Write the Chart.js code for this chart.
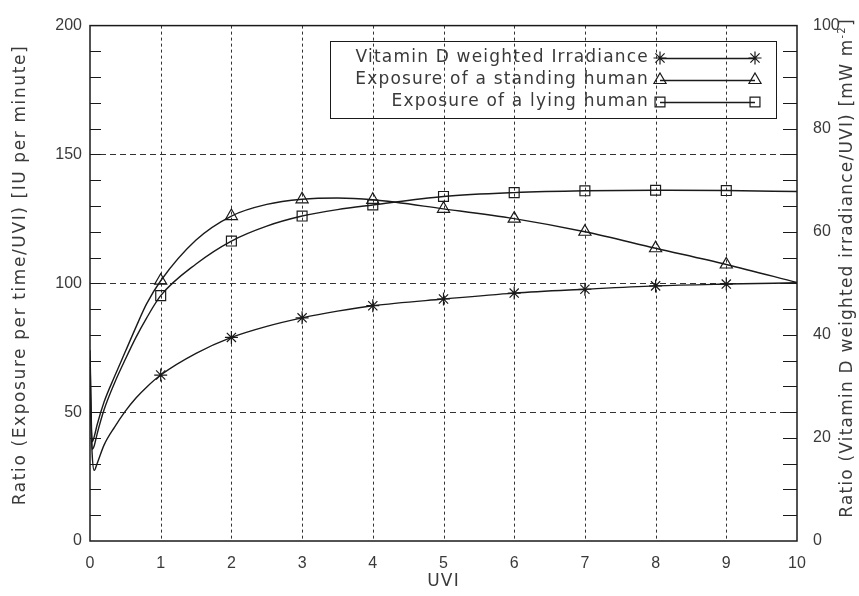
<!DOCTYPE html>
<html>
<head>
<meta charset="utf-8">
<script src="https://cdn.jsdelivr.net/npm/chart.js@4.4.1/dist/chart.umd.min.js"></script>
<style>
  html, body { margin: 0; padding: 0; background: #fff; }
  canvas { display: block; }
</style>
</head>
<body>
<canvas id="c" width="859" height="596"></canvas>
<script>
// Tick labels
const uviTicks = [0, 1, 2, 3, 4, 5, 6, 7, 8, 9, 10];
const exposureTicks = [0, 50, 100, 150, 200];
const irradianceTicks = [0, 20, 40, 60, 80, 100];

// Sampled curves (UVI on x)
const uvi = [0, 0.03, 0.06, 0.1, 0.2, 0.35, 0.5, 0.65, 0.8, 1, 1.5, 2, 2.5, 3, 3.5, 4, 5, 6, 7, 8, 9, 10];
// Vitamin D weighted irradiance / UVI  [mW m^-2]  (right axis)
const vitaminD = [30, 17, 13.7, 15, 18.65, 22.15, 25.2, 27.75, 29.85, 32.2, 36.4, 39.5, 41.65, 43.3, 44.6, 45.65, 46.95, 48.1, 48.85, 49.5, 49.85, 50.1];
// Exposure per time / UVI  [IU per minute]  (left axis)
const standing = [74, 38.5, 40.5, 45, 54, 64, 73.5, 83, 92, 101, 116.8, 126.1, 130.6, 132.6, 133.1, 132.4, 128.9, 125.1, 120, 113.6, 107.3, 100.3];
const lying = [71, 35.6, 37, 41.5, 51, 61.5, 70.5, 79, 86.5, 95.2, 107.5, 116.4, 122.2, 126.1, 128.6, 130.4, 133.7, 135.2, 135.9, 136.1, 136, 135.6];

// UVI values that carry a symbol
const markerUvi = [1, 2, 3, 4, 5, 6, 7, 8, 9];

const seriesNames = [
  'Vitamin D weighted Irradiance',
  'Exposure of a standing human',
  'Exposure of a lying human'
];

const INK = '#1a1a1a';
const TEXT = '#3a3a3a';
const FONT = '"DejaVu Sans", sans-serif';
const TICK_FONT = '"Liberation Sans", Arial, sans-serif';

const curvePoints = ys => uvi.map((u, i) => ({ x: u, y: ys[i] }));
const markerPoints = ys => markerUvi.map(u => ({ x: u, y: ys[uvi.indexOf(u)] }));

const curveStyle = {
  showLine: true, pointRadius: 0, borderColor: INK, borderWidth: 1.4,
  cubicInterpolationMode: 'monotone', fill: false
};
const markStyle = {
  showLine: false, borderColor: INK, backgroundColor: 'rgba(0,0,0,0)',
  pointBorderWidth: 1.2, pointBackgroundColor: 'rgba(0,0,0,0)'
};

const symbols = [
  { pointStyle: 'star', pointRadius: 6.5 },
  { pointStyle: 'triangle', pointRadius: 7 },
  { pointStyle: 'rect', pointRadius: 7 }
];

// frame, grid, minor ticks, titles and legend
const framePlugin = {
  id: 'frame',
  beforeDatasetsDraw(chart) {
    const { ctx, chartArea: a, scales: { x, y, y2 } } = chart;
    const seg = (x1, y1, x2, y2_) => { ctx.beginPath(); ctx.moveTo(x1, y1); ctx.lineTo(x2, y2_); ctx.stroke(); };
    ctx.save();
    ctx.lineWidth = 1;
    ctx.strokeStyle = '#333';
    ctx.setLineDash([3, 3]);
    uviTicks.forEach(v => {
      if (v <= x.min || v >= x.max) return;
      const px = Math.round(x.getPixelForValue(v)) + 0.5;
      seg(px, a.top, px, a.bottom);
    });
    ctx.setLineDash([6, 4]);
    exposureTicks.forEach(v => {
      if (v <= y.min || v >= y.max) return;
      const py = Math.round(y.getPixelForValue(v)) + 0.5;
      seg(a.left, py, a.right, py);
    });
    ctx.setLineDash([]);
    ctx.strokeStyle = INK;
    // minor ticks, left axis every 10 units
    for (let v = y.min + 10; v < y.max; v += 10) {
      const py = Math.round(y.getPixelForValue(v)) + 0.5;
      seg(a.left, py, a.left + 11, py);
    }
    // minor ticks, right axis every 5 units
    for (let v = y2.min + 5; v < y2.max; v += 5) {
      const py = Math.round(y2.getPixelForValue(v)) + 0.5;
      seg(a.right - 14, py, a.right, py);
    }
    ctx.lineWidth = 1.5;
    ctx.strokeRect(a.left, a.top, a.right - a.left, a.bottom - a.top);
    ctx.restore();
  },
  afterDatasetsDraw(chart) {
    const { ctx, chartArea: a } = chart;
    ctx.save();
    ctx.letterSpacing = '1.2px';
    ctx.fillStyle = TEXT;
    ctx.font = '17px ' + FONT;

    // left title
    ctx.save();
    ctx.translate(21, 275);
    ctx.rotate(-Math.PI / 2);
    ctx.textAlign = 'center';
    ctx.textBaseline = 'middle';
    ctx.letterSpacing = '1.6px';
    ctx.fillText('Ratio (Exposure per time/UVI) [IU per minute]', 0, 0);
    ctx.restore();

    // right title with superscript
    ctx.save();
    ctx.translate(848, 268);
    ctx.rotate(-Math.PI / 2);
    ctx.textBaseline = 'middle';
    ctx.textAlign = 'left';
    const main = 'Ratio (Vitamin D weighted irradiance/UVI) [mW m';
    const sup = '-2';
    const close = ']';
    ctx.font = '17px ' + FONT;
    const w1 = ctx.measureText(main).width;
    const w3 = ctx.measureText(close).width;
    ctx.font = '10px ' + FONT;
    const w2 = ctx.measureText(sup).width;
    let sx = -(w1 + w2 + w3) / 2;
    ctx.font = '17px ' + FONT;
    ctx.fillText(main, sx, 0);
    sx += w1;
    ctx.font = '10px ' + FONT;
    ctx.fillText(sup, sx, -6);
    sx += w2;
    ctx.font = '17px ' + FONT;
    ctx.fillText(close, sx, 0);
    ctx.restore();

    // bottom title
    ctx.textAlign = 'center';
    ctx.textBaseline = 'middle';
    ctx.fillText('UVI', (a.left + a.right) / 2, 582);

    // legend
    const box = { l: 330, t: 41, r: 776, b: 118 };
    ctx.strokeStyle = INK;
    ctx.lineWidth = 1;
    ctx.strokeRect(box.l + 0.5, box.t + 0.5, box.r - box.l, box.b - box.t);
    const textRight = 649, m1 = 660, m2 = 755;
    const rows = [58, 80, 102];
    seriesNames.forEach((name, i) => {
      const ry = rows[i];
      ctx.fillStyle = TEXT;
      ctx.textAlign = 'right';
      ctx.textBaseline = 'middle';
      ctx.font = '17px ' + FONT;
      ctx.fillText(name, textRight, ry);
      ctx.strokeStyle = INK;
      ctx.lineWidth = 1.3;
      ctx.beginPath(); ctx.moveTo(m1, ry + 0.5); ctx.lineTo(m2, ry + 0.5); ctx.stroke();
      ctx.fillStyle = 'rgba(0,0,0,0)';
      ctx.lineWidth = 1.2;
      [m1, m2].forEach(mx => {
        Chart.helpers.drawPoint(ctx, {
          pointStyle: symbols[i].pointStyle, radius: symbols[i].pointRadius,
          rotation: 0, borderWidth: 1.2
        }, mx, ry);
      });
    });
    ctx.restore();
  }
};

const tickFont = { family: TICK_FONT, size: 16 };

new Chart(document.getElementById('c'), {
  type: 'scatter',
  data: {
    datasets: [
      Object.assign({ label: seriesNames[0], data: curvePoints(vitaminD), yAxisID: 'y2' }, curveStyle),
      Object.assign({ label: seriesNames[1], data: curvePoints(standing), yAxisID: 'y' }, curveStyle),
      Object.assign({ label: seriesNames[2], data: curvePoints(lying), yAxisID: 'y' }, curveStyle),
      Object.assign({ label: seriesNames[0], data: markerPoints(vitaminD), yAxisID: 'y2' }, markStyle, symbols[0]),
      Object.assign({ label: seriesNames[1], data: markerPoints(standing), yAxisID: 'y' }, markStyle, symbols[1]),
      Object.assign({ label: seriesNames[2], data: markerPoints(lying), yAxisID: 'y' }, markStyle, symbols[2])
    ]
  },
  options: {
    responsive: false,
    devicePixelRatio: 1,
    animation: false,
    events: [],
    layout: { padding: { top: 17, left: 0, right: 0, bottom: 0 } },
    plugins: { legend: { display: false }, tooltip: { enabled: false } },
    scales: {
      x: {
        type: 'linear', min: uviTicks[0], max: uviTicks[uviTicks.length - 1],
        afterBuildTicks: s => { s.ticks = uviTicks.map(v => ({ value: v })); },
        ticks: { font: tickFont, color: TEXT, padding: 13, maxRotation: 0, autoSkip: false },
        grid: { display: false, drawTicks: false },
        border: { display: false },
        afterFit: s => { s.height = 55; }
      },
      y: {
        position: 'left', min: exposureTicks[0], max: exposureTicks[exposureTicks.length - 1],
        afterBuildTicks: s => { s.ticks = exposureTicks.map(v => ({ value: v })); },
        ticks: { font: tickFont, color: TEXT, padding: 8 },
        grid: { display: false, drawTicks: false },
        border: { display: false },
        afterFit: s => { s.width = 90; }
      },
      y2: {
        position: 'right', min: irradianceTicks[0], max: irradianceTicks[irradianceTicks.length - 1],
        afterBuildTicks: s => { s.ticks = irradianceTicks.map(v => ({ value: v })); },
        ticks: { font: tickFont, color: TEXT, padding: 16 },
        grid: { display: false, drawTicks: false },
        border: { display: false },
        afterFit: s => { s.width = 62; }
      }
    }
  },
  plugins: [framePlugin]
});
</script>
</body>
</html>
